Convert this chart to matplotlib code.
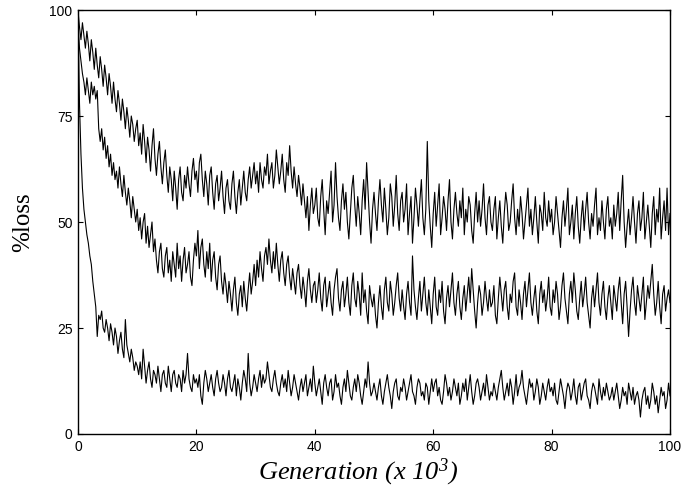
import matplotlib
matplotlib.use('Agg')
import matplotlib.pyplot as plt
import numpy as np

# generation axis, one sample every 250 generations (x 10^3)
generation = np.linspace(0, 100, 401)

# top curve
loss_top = [
    100, 96, 93, 97, 94, 91, 95, 92, 88, 93, 90, 86, 91, 87, 84, 89, 86, 82, 87, 84,
    80, 85, 82, 78, 83, 79, 76, 81, 78, 74, 79, 76, 72, 77, 74, 70, 75, 73, 69, 72,
    74, 68, 71, 66, 73, 69, 64, 70, 67, 62, 68, 72, 65, 61, 66, 69, 63, 59, 64, 67,
    61, 57, 63, 60, 55, 62, 58, 53, 60, 63, 57, 55, 61, 58, 63, 59, 56, 62, 65, 60,
    62, 57, 64, 66, 60, 56, 62, 59, 54, 61, 63, 57, 53, 59, 61, 55, 58, 62, 56, 52,
    58, 60, 55, 53, 59, 62, 56, 52, 57, 60, 54, 58, 62, 57, 55, 60, 63, 58, 61, 64,
    59, 62, 57, 64, 60, 58, 63, 61, 66, 59, 62, 64, 58, 61, 67, 63, 59, 62, 66, 60,
    57, 64, 61, 68, 62, 58, 63, 59, 56, 61, 58, 54, 59, 55, 51, 56, 48, 54, 58, 52,
    54, 58, 51, 49, 56, 60, 53, 47, 55, 52, 57, 62, 50, 54, 64, 56, 51, 48, 55, 59,
    53, 57, 50, 46, 52, 58, 61, 54, 49, 56, 52, 47, 55, 60, 53, 64, 57, 50, 45, 53,
    57, 52, 48, 55, 60, 54, 50, 58, 53, 47, 51, 59, 56, 49, 54, 61, 52, 48, 55, 57,
    50, 53, 59, 47, 52, 56, 45, 51, 58, 54, 49, 55, 60, 51, 47, 53, 69, 55, 49, 44,
    52, 57, 49, 54, 59, 47, 51, 56, 53, 48, 55, 60, 50, 46, 53, 57, 52, 49, 55, 51,
    58, 47, 53, 50, 56, 54, 48, 45, 52, 57, 50, 55, 49, 53, 59, 51, 47, 54, 56, 50,
    48, 53, 56, 46, 51, 55, 49, 45, 52, 57, 54, 48, 50, 55, 59, 51, 47, 53, 49, 56,
    52, 46, 50, 54, 58, 49, 53, 47, 51, 56, 50, 45, 54, 52, 48, 57, 51, 49, 55, 50,
    53, 47, 50, 56, 52, 48, 44, 51, 55, 49, 53, 58, 47, 50, 54, 46, 52, 56, 49, 45,
    51, 55, 48, 53, 57, 50, 46, 52, 49, 54, 58, 47, 51, 48, 55, 50, 46, 53, 56, 49,
    51, 46, 54, 49, 52, 57, 48, 55, 61, 50, 44, 49, 53, 47, 51, 56, 50, 45, 52, 55,
    48, 51, 57, 46, 50, 54, 49, 44, 52, 56, 47, 53, 50, 58, 46, 51, 55, 48, 58, 47, 52,
]

# middle curve
loss_mid = [
    97, 91, 88, 85, 83, 80, 84, 81, 78, 83, 80, 82, 79, 81, 72, 69, 72, 67, 70, 65,
    68, 63, 66, 61, 64, 60, 62, 58, 63, 59, 56, 61, 57, 54, 58, 55, 51, 56, 53, 50,
    53, 48, 51, 46, 50, 52, 45, 49, 44, 47, 50, 43, 46, 41, 38, 43, 45, 39, 37, 42,
    44, 38, 41, 36, 43, 40, 37, 45, 39, 42, 36, 41, 44, 38, 40, 43, 37, 35, 41, 45,
    42, 48, 39, 44, 46, 40, 37, 43, 39, 45, 36, 41, 43, 37, 34, 40, 42, 36, 33, 38,
    35, 31, 36, 33, 29, 34, 37, 31, 28, 33, 35, 30, 36, 32, 29, 34, 38, 33, 36, 40,
    35, 41, 37, 43, 39, 36, 42, 44, 40, 46, 41, 38, 43, 39, 45, 40, 36, 41, 43, 38,
    35, 40, 42, 37, 34, 39, 36, 33, 38, 40, 35, 32, 37, 34, 30, 36, 39, 34, 31, 35,
    36, 31, 34, 38, 32, 29, 35, 37, 30, 33, 36, 31, 28, 34, 37, 39, 32, 29, 34, 36,
    30, 33, 37, 31, 28, 35, 38, 32, 30, 36, 33, 28, 38, 31, 34, 29, 26, 35, 32, 30,
    33, 28, 25, 31, 35, 30, 27, 34, 37, 31, 29, 36, 33, 28, 31, 35, 38, 32, 29, 34,
    30, 27, 33, 36, 31, 28, 42, 34, 30, 27, 32, 36, 29, 33, 37, 31, 28, 34, 30, 26,
    33, 37, 30, 28, 34, 31, 36, 29, 26, 32, 35, 30, 34, 38, 31, 28, 33, 36, 30, 27,
    32, 35, 29, 33, 37, 31, 39, 34, 29, 25, 31, 35, 33, 28, 31, 36, 32, 29, 34, 30,
    31, 35, 28, 26, 32, 37, 33, 29, 34, 36, 30, 27, 33, 31, 36, 38, 30, 28, 34, 31,
    27, 33, 36, 30, 34, 38, 31, 28, 32, 35, 29, 26, 33, 36, 31, 34, 29, 32, 37, 30,
    28, 34, 31, 36, 33, 27, 30, 35, 38, 32, 29, 26, 33, 36, 31, 38, 34, 29, 27, 32,
    36, 30, 33, 37, 31, 28, 25, 32, 35, 30, 34, 38, 31, 28, 33, 36, 30, 27, 32, 35,
    31, 27, 35, 32, 29, 34, 37, 31, 26, 33, 36, 30, 23, 29, 34, 37, 31, 28, 35, 32,
    29, 33, 37, 27, 31, 35, 32, 36, 40, 33, 28, 31, 36, 30, 26, 33, 35, 29, 32, 34, 31,
]

# bottom curve
loss_low = [
    100, 78, 66, 58, 53, 50, 47, 45, 42, 40, 36, 33, 30, 23, 28, 27, 29, 25, 24, 27,
    25, 22, 26, 24, 21, 25, 23, 19, 22, 24, 20, 18, 27, 21, 19, 17, 20, 18, 15, 17,
    16, 14, 17, 13, 20, 16, 12, 15, 17, 13, 11, 15, 14, 12, 16, 13, 10, 14, 15, 12,
    11, 16, 13, 10, 14, 15, 12, 11, 14, 13, 10, 15, 12, 14, 19, 13, 11, 10, 14, 12,
    13, 11, 14, 9, 7, 12, 15, 13, 10, 12, 14, 11, 9, 13, 15, 12, 10, 11, 14, 12,
    9, 13, 15, 11, 10, 12, 14, 9, 13, 11, 8, 12, 15, 13, 10, 19, 12, 9, 11, 14,
    12, 10, 13, 15, 11, 14, 12, 13, 17, 14, 11, 10, 13, 15, 12, 10, 9, 12, 14, 11,
    13, 10, 15, 12, 9, 11, 14, 12, 10, 8, 11, 13, 10, 12, 14, 9, 11, 13, 10, 16,
    12, 9, 11, 13, 10, 7, 12, 14, 11, 9, 12, 13, 8, 10, 14, 11, 12, 9, 7, 11,
    13, 10, 15, 12, 9, 8, 11, 13, 10, 14, 12, 9, 7, 10, 13, 11, 17, 12, 9, 10,
    12, 10, 8, 11, 13, 9, 7, 10, 12, 14, 11, 9, 6, 10, 12, 13, 9, 8, 11, 10,
    13, 11, 8, 10, 12, 14, 10, 9, 7, 11, 13, 12, 9, 10, 8, 12, 11, 7, 10, 13,
    10, 12, 13, 9, 11, 8, 7, 10, 14, 12, 9, 11, 8, 10, 13, 11, 9, 12, 7, 9,
    12, 10, 13, 8, 11, 14, 10, 7, 9, 12, 13, 11, 8, 10, 12, 9, 14, 11, 8, 10,
    9, 12, 10, 8, 11, 13, 15, 11, 8, 10, 12, 9, 13, 11, 7, 10, 14, 9, 11, 12,
    15, 11, 9, 7, 10, 13, 11, 12, 8, 10, 13, 11, 7, 9, 12, 10, 8, 11, 13, 10,
    11, 9, 12, 8, 7, 10, 13, 11, 9, 6, 10, 12, 11, 8, 10, 13, 9, 7, 11, 12,
    8, 10, 12, 13, 9, 8, 6, 10, 12, 11, 9, 7, 13, 10, 8, 11, 9, 12, 10, 8,
    9, 11, 8, 10, 12, 9, 6, 8, 11, 9, 10, 7, 12, 10, 8, 11, 7, 9, 10, 8,
    4, 8, 10, 11, 7, 9, 6, 8, 12, 10, 7, 9, 5, 8, 11, 9, 10, 6, 8, 12, 9,
]

xticks = [0, 20, 40, 60, 80, 100]
yticks = [0, 25, 50, 75, 100]

plt.rcParams['mathtext.fontset'] = 'custom'
plt.rcParams['mathtext.rm'] = 'Liberation Serif:italic'
plt.rcParams['mathtext.it'] = 'Liberation Serif:italic'

fig = plt.figure(figsize=(6.83, 4.86), dpi=100)
ax = fig.add_axes([0.1142, 0.107, 0.8668, 0.8724])

for series in (loss_top, loss_mid, loss_low):
    ax.plot(generation, series, color='black', linewidth=0.8)

ax.set_xlim(0, 100)
ax.set_ylim(0, 100)
ax.set_xticks(xticks)
ax.set_yticks(yticks)
ax.tick_params(direction='in', length=3.5, width=0.8, top=True, right=True,
               labelsize=10, pad=4)
for lab in ax.get_xticklabels() + ax.get_yticklabels():
    lab.set_fontfamily('Liberation Sans')
for sp in ax.spines.values():
    sp.set_linewidth(1.0)

fig.text(0.524, 0.0144, 'Generation (x 10$^{3}$)', ha='center', va='baseline',
         fontsize=19, fontstyle='italic', family='Liberation Serif')
fig.text(0.034, 0.543, '%loss', ha='center', va='center', rotation=90,
         fontsize=18, family='Liberation Serif')

fig.savefig('out.png', dpi=100)
